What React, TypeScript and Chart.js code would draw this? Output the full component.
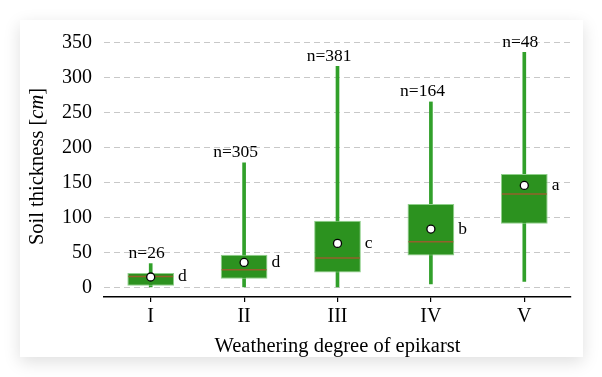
import React, { useEffect, useRef } from 'react';
import { Chart, registerables } from 'chart.js';

Chart.register(...registerables);

const categories = ['I', 'II', 'III', 'IV', 'V'];
const whiskerLow = [0, 0, 0, 5, 8.5];
const whiskerHigh = [34, 178, 316, 265, 336];
const q1 = [2.4, 12.4, 21.4, 45.7, 91];
const q3 = [20.6, 46.7, 95.3, 119, 162];
const medians = [15.7, 25.3, 42, 65.3, 133.4];
const means = [14.9, 35.7, 62.9, 83.4, 145.7];
const counts = [26, 305, 381, 164, 48];
const groupLetters = ['d', 'd', 'c', 'b', 'a'];

const SERIF = '"Liberation Serif", "Times New Roman", serif';
const BOX_FILL = '#2c921f';
const BOX_EDGE = '#8fd08a';
const WHISKER = '#31a02a';
const MEDIAN = '#93602c';

const annotPlugin = {
  id: 'annot',
  afterDatasetDraw(chart: any, args: any) {
    if (args.index !== 1) return;
    const ctx = chart.ctx;
    const meta = chart.getDatasetMeta(1);
    const ys = chart.scales.y;
    ctx.save();
    ctx.strokeStyle = MEDIAN;
    ctx.lineWidth = 1.5;
    meta.data.forEach((bar: any, i: number) => {
      const p = bar.getProps(['x', 'width'], true);
      const py = ys.getPixelForValue(medians[i]);
      ctx.beginPath();
      ctx.moveTo(p.x - p.width / 2 + 1, py);
      ctx.lineTo(p.x + p.width / 2 - 1, py);
      ctx.stroke();
    });
    ctx.restore();
  },
  afterDatasetsDraw(chart: any) {
    const ctx = chart.ctx;
    const xs = chart.scales.x;
    const ys = chart.scales.y;
    const meta = chart.getDatasetMeta(1);
    ctx.save();
    ctx.fillStyle = '#000';
    ctx.font = `17.5px ${SERIF}`;
    ctx.textBaseline = 'alphabetic';
    categories.forEach((_, i) => {
      const x = xs.getPixelForValue(i);
      const yTop = ys.getPixelForValue(whiskerHigh[i]);
      ctx.textAlign = 'right';
      ctx.fillText(`n=${counts[i]}`, x + 14, yTop - 5.5);
      const p = meta.data[i].getProps(['x', 'width'], true);
      ctx.textAlign = 'left';
      ctx.fillText(groupLetters[i], p.x + p.width / 2 + 4, ys.getPixelForValue(means[i]) + 4.5);
    });
    ctx.restore();
  },
  afterDraw(chart: any) {
    const ctx = chart.ctx;
    const ca = chart.chartArea;
    ctx.save();
    ctx.fillStyle = '#000';
    ctx.font = `20.5px ${SERIF}`;
    ctx.textBaseline = 'alphabetic';
    ctx.textAlign = 'center';
    ctx.fillText('Weathering degree of epikarst', (ca.left + ca.right) / 2, 331.5);

    const partA = 'Soil thickness [';
    const partB = 'cm';
    const partC = ']';
    const fN = `20.5px ${SERIF}`;
    const fI = `italic 20.5px ${SERIF}`;
    ctx.font = fN;
    const wA = ctx.measureText(partA).width;
    const wC = ctx.measureText(partC).width;
    ctx.font = fI;
    const wB = ctx.measureText(partB).width;
    const total = wA + wB + wC;
    ctx.translate(22.5, (ca.top + ca.bottom) / 2);
    ctx.rotate(-Math.PI / 2);
    ctx.textAlign = 'left';
    let x0 = -total / 2;
    ctx.font = fN;
    ctx.fillText(partA, x0, 0);
    x0 += wA;
    ctx.font = fI;
    ctx.fillText(partB, x0, 0);
    x0 += wB;
    ctx.font = fN;
    ctx.fillText(partC, x0, 0);
    ctx.restore();
  },
};

export default function App() {
  const ref = useRef<HTMLCanvasElement | null>(null);
  useEffect(() => {
    if (!ref.current) return;
    const chart = new Chart(ref.current, {
      type: 'bar',
      data: {
        labels: categories,
        datasets: [
          {
            type: 'bar',
            data: categories.map((_, i) => [whiskerLow[i], whiskerHigh[i]]) as any,
            backgroundColor: WHISKER,
            borderWidth: 0,
            barThickness: 3,
            grouped: false,
            order: 3,
          } as any,
          {
            type: 'bar',
            data: categories.map((_, i) => [q1[i], q3[i]]) as any,
            backgroundColor: BOX_FILL,
            borderColor: BOX_EDGE,
            borderWidth: 1,
            borderSkipped: false,
            barPercentage: 0.5,
            categoryPercentage: 1,
            grouped: false,
            order: 2,
          } as any,
          {
            type: 'line',
            data: means,
            showLine: false,
            pointRadius: 4,
            pointBackgroundColor: '#ffffff',
            pointBorderColor: '#000000',
            pointBorderWidth: 1.3,
            order: 0,
            clip: false,
          } as any,
        ],
      },
      options: {
        animation: false,
        responsive: false,
        devicePixelRatio: 1,
        events: [],
        layout: { autoPadding: false, padding: { left: 0, right: 12, top: 16, bottom: 0 } },
        plugins: { legend: { display: false }, tooltip: { enabled: false }, title: { display: false } },
        scales: {
          x: {
            offset: true,
            grid: {
              display: true,
              drawOnChartArea: false,
              drawTicks: true,
              tickLength: 5,
              color: '#000',
              lineWidth: 1.2,
              offset: false,
            },
            border: { display: true, color: '#000', width: 1.5 },
            ticks: { color: '#000', font: { family: SERIF, size: 20 }, padding: 3, autoSkip: false, maxRotation: 0 },
            afterFit: (s: any) => {
              s.height = 60;
              s.paddingLeft = 0;
              s.paddingRight = 0;
            },
          },
          y: {
            min: -13.7,
            max: 359.2,
            grid: { color: '#c8c8c8', lineWidth: 1, drawTicks: false },
            border: { display: false, dash: [6, 4] },
            ticks: { color: '#000', font: { family: SERIF, size: 20 }, padding: 12, stepSize: 50, includeBounds: false },
            afterFit: (s: any) => {
              s.width = 84;
              s.paddingTop = 0;
              s.paddingBottom = 0;
            },
          },
        },
      } as any,
      plugins: [annotPlugin],
    });
    return () => chart.destroy();
  }, []);

  return (
    <div style={{ position: 'fixed', left: 0, top: 0, width: 602, height: 377, background: '#ffffff' }}>
      <div
        style={{
          position: 'absolute',
          left: 20,
          top: 20,
          width: 563,
          height: 337,
          background: '#ffffff',
          boxShadow: '0 5px 16px rgba(0,0,0,0.13)',
        }}
      >
        <canvas ref={ref} width={563} height={337} style={{ display: 'block' }} />
      </div>
    </div>
  );
}
